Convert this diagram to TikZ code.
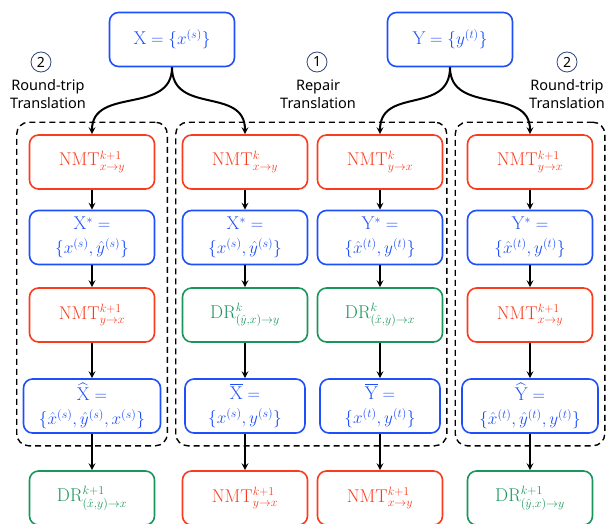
\documentclass[tikz,border=0pt]{standalone}
\usepackage{amsmath}
\usepackage{fontspec}
\newfontfamily\labelfont{Noto Sans}
\usetikzlibrary{fit}

\definecolor{nmtred}{RGB}{250,60,30}
\definecolor{datablue}{RGB}{30,80,250}
\definecolor{drgreen}{RGB}{25,150,90}
\definecolor{ringblue}{RGB}{50,70,120}

\begin{document}
\begin{tikzpicture}[x=1pt,y=-1pt,
  box/.style={rounded corners=9pt,line width=1.6pt,minimum width=125pt,
    minimum height=54pt,inner sep=2pt,align=center,
    font=\fontsize{18.5}{24}\selectfont},
  nmt/.style={box,draw=nmtred,text=nmtred},
  data/.style={box,draw=datablue,text=datablue},
  dr/.style={box,draw=drgreen,text=drgreen},
  group/.style={draw,line width=1.4pt,dash pattern=on 6pt off 4pt,
    rounded corners=12pt,inner xsep=6pt,inner ysep=12pt},
  flow/.style={->,>=stealth,line width=2pt},
  ring/.style={circle,draw=ringblue,line width=0.8pt,minimum size=20pt,
    inner sep=0pt,font=\labelfont\fontsize{14}{14}\selectfont},
  steplabel/.style={align=center,font=\labelfont\fontsize{14.5}{18}\selectfont}]
\useasboundingbox (0,0) rectangle (607,524);

% corpora on top
\node[data] (xs) at (172,39.5) {$\mathrm{X}=\{x^{(s)}\}$};
\node[data] (ys) at (450,39.5) {$\mathrm{Y}=\{y^{(t)}\}$};

% step labels
\node[ring] (r1) at (41,62) {2};
\node[steplabel] (l1) at (48,94) {Round-trip\\Translation};
\node[ring] (r2) at (317,62) {1};
\node[steplabel] (l2) at (318,94) {Repair\\Translation};
\node[ring] (r3) at (567,62) {2};
\node[steplabel] (l3) at (567,94) {Round-trip\\Translation};

% column 1: round-trip on X
\node[nmt] (n11) at (92,162) {NMT$^{k+1}_{x\to y}$};
\node[data] (n12) at (92,237.5) {$\mathrm{X}^{*}=$\\$\{x^{(s)},\hat{y}^{(s)}\}$};
\node[nmt] (n13) at (92,315) {NMT$^{k+1}_{y\to x}$};
\node[data,minimum width=137pt] (n14) at (92,406)
  {$\widehat{\mathrm{X}}=$\\$\{\hat{x}^{(s)},\hat{y}^{(s)},x^{(s)}\}$};
\node[dr] (n15) at (92,498) {DR$^{k+1}_{(\hat{x},y)\to x}$};

% column 2: repair on X
\node[nmt] (n21) at (245,162) {NMT$^{k}_{x\to y}$};
\node[data] (n22) at (245,237.5) {$\mathrm{X}^{*}=$\\$\{x^{(s)},\hat{y}^{(s)}\}$};
\node[dr] (n23) at (245,315) {DR$^{k}_{(\hat{y},x)\to y}$};
\node[data,minimum width=120pt] (n24) at (245,406)
  {$\overline{\mathrm{X}}=$\\$\{x^{(s)},y^{(s)}\}$};
\node[nmt] (n25) at (245,498) {NMT$^{k+1}_{y\to x}$};

% column 3: repair on Y
\node[nmt] (n31) at (380,162) {NMT$^{k}_{y\to x}$};
\node[data] (n32) at (380,237.5) {$\mathrm{Y}^{*}=$\\$\{\hat{x}^{(t)},y^{(t)}\}$};
\node[dr] (n33) at (380,315) {DR$^{k}_{(\hat{x},y)\to x}$};
\node[data,minimum width=120pt] (n34) at (380,406)
  {$\overline{\mathrm{Y}}=$\\$\{x^{(t)},y^{(t)}\}$};
\node[nmt] (n35) at (380,498) {NMT$^{k+1}_{x\to y}$};

% column 4: round-trip on Y
\node[nmt] (n41) at (530,162) {NMT$^{k+1}_{y\to x}$};
\node[data] (n42) at (530,237.5) {$\mathrm{Y}^{*}=$\\$\{\hat{x}^{(t)},y^{(t)}\}$};
\node[nmt] (n43) at (530,315) {NMT$^{k+1}_{x\to y}$};
\node[data,minimum width=136pt] (n44) at (530,406)
  {$\widehat{\mathrm{Y}}=$\\$\{\hat{x}^{(t)},\hat{y}^{(t)},y^{(t)}\}$};
\node[dr] (n45) at (530,498) {DR$^{k+1}_{(\hat{y},x)\to y}$};

% dashed groups
\node[group,fit=(n11)(n14)] (g1) {};
\node[group,fit=(n21)(n34)] (g2) {};
\node[group,fit=(n41)(n44)] (g3) {};

% branching from the corpora
\draw[flow] (xs.south) .. controls +(0,48) and +(0,-48) .. (n11.north);
\draw[flow] (xs.south) .. controls +(0,48) and +(0,-48) .. (n21.north);
\draw[flow] (ys.south) .. controls +(0,48) and +(0,-48) .. (n31.north);
\draw[flow] (ys.south) .. controls +(0,48) and +(0,-48) .. (n41.north);

% down each column
\foreach \c in {1,2,3,4} {
  \foreach \a/\b in {1/2,2/3,3/4,4/5} {
    \draw[flow] (n\c\a.south) -- (n\c\b.north);
  }
}
\end{tikzpicture}
\end{document}
